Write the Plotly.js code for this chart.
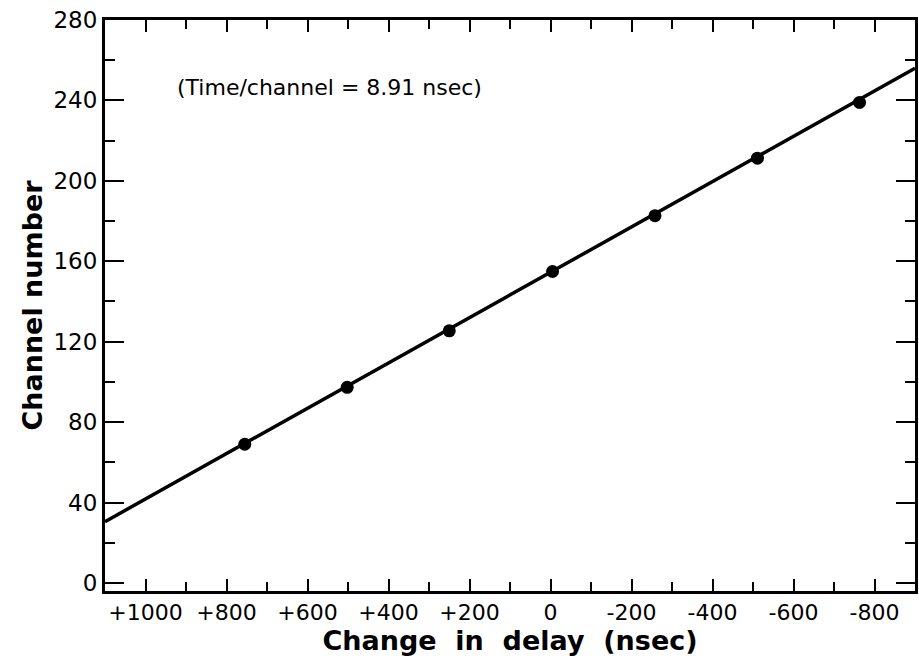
<!DOCTYPE html>
<html>
<head>
<meta charset="utf-8">
<script src="https://cdn.plot.ly/plotly-3.0.1.min.js"></script>
<style>html,body{margin:0;padding:0;background:#fff;}#chart{width:919px;height:666px;}</style>
</head>
<body>
<div id="chart"></div>
<script>
// Measured points: change in delay (nsec) vs channel number
const delayNs = [755, 502, 250, -5, -258, -511, -763];
const channel = [69.0, 97.3, 125.4, 154.9, 182.7, 211.3, 239.0];

// Fitted straight line (end points at the axis edges)
const fitDelay = [1100, -900];
const fitChannel = [30.5, 256];

// Axis ticks
const xTickVals = [1000, 800, 600, 400, 200, 0, -200, -400, -600, -800];
const xTickText = ['+1000', '+800', '+600', '+400', '+200', '0', '-200', '-400', '-600', '-800'];
const yTickVals = [0, 40, 80, 120, 160, 200, 240, 280];

const font = 'DejaVu Sans, sans-serif';

const traces = [
  {x: fitDelay, y: fitChannel, mode: 'lines', type: 'scatter',
   line: {color: '#000', width: 3.5}, hoverinfo: 'skip', showlegend: false},
  {x: delayNs, y: channel, mode: 'markers', type: 'scatter',
   marker: {color: '#000', size: 13}, showlegend: false}
];

const layout = {
  width: 919, height: 666,
  margin: {l: 105, r: 4, t: 20, b: 75},
  paper_bgcolor: '#fff', plot_bgcolor: '#fff',
  font: {family: font, color: '#000', size: 21},
  xaxis: {
    range: [1100, -900],
    tickmode: 'array', tickvals: xTickVals, ticktext: xTickText,
    ticks: 'inside', ticklen: 12, tickwidth: 2, tickcolor: '#000',
    minor: {dtick: 100, ticks: 'inside', ticklen: 9, tickwidth: 2, tickcolor: '#000', showgrid: false},
    showline: true, linecolor: '#000', linewidth: 3, mirror: 'ticks',
    showgrid: false, zeroline: false,
    tickfont: {family: font, size: 22, color: '#000'},
    title: {text: 'Change  in  delay  (nsec)', font: {family: font, size: 27, color: '#000', weight: 'bold'}, standoff: 2}
  },
  yaxis: {
    range: [-4, 280],
    tickmode: 'array', tickvals: yTickVals,
    ticks: 'inside', ticklen: 19, tickwidth: 2, tickcolor: '#000',
    minor: {dtick: 20, ticks: 'inside', ticklen: 10, tickwidth: 2, tickcolor: '#000', showgrid: false},
    showline: true, linecolor: '#000', linewidth: 3, mirror: 'ticks',
    showgrid: false, zeroline: false,
    tickfont: {family: font, size: 23, color: '#000'},
    title: {text: 'Channel number', font: {family: font, size: 27, color: '#000', weight: 'bold'}, standoff: 4}
  },
  annotations: [{
    xref: 'paper', yref: 'paper', x: 0.086, y: 0.882, xanchor: 'left', yanchor: 'middle',
    text: '(Time/channel = 8.91 nsec)', showarrow: false,
    font: {family: font, size: 22, color: '#000'}
  }]
};

Plotly.newPlot('chart', traces, layout, {displayModeBar: false, staticPlot: true});
</script>
</body>
</html>
